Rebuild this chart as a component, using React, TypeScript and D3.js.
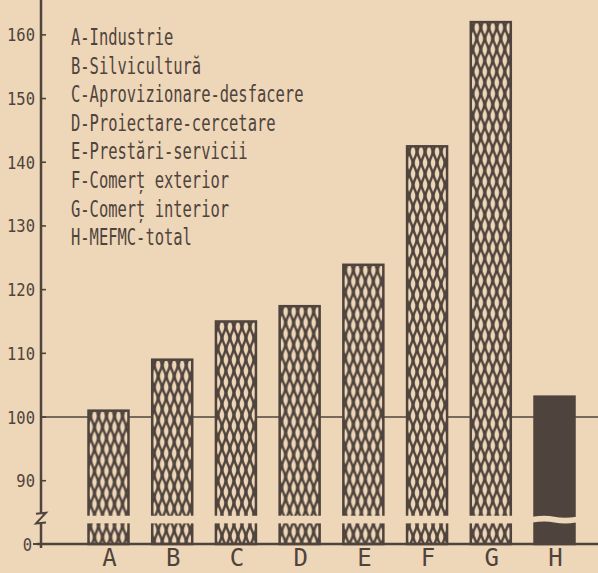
import React from 'react';
import * as d3 from 'd3';

const categories = ['A', 'B', 'C', 'D', 'E', 'F', 'G', 'H'];
const values = [101, 109, 115, 117.4, 123.9, 142.5, 162, 103.2];
const legendLabels = [
  'A-Industrie',
  'B-Silvicultură',
  'C-Aprovizionare-desfacere',
  'D-Proiectare-cercetare',
  'E-Prestări-servicii',
  'F-Comerț exterior',
  'G-Comerț interior',
  'H-MEFMC-total',
];
const yTicks = [0, 90, 100, 110, 120, 130, 140, 150, 160];

const W = 598;
const H = 573;
const BG = '#eed6b8';
const INK = '#4f443d';
const AXIS_X = 41;
const BAR_W = 40;
const BREAK_LO = 83.3;
const BREAK_HI = 84.5;
const MONO = "'DejaVu Sans Mono', 'Liberation Mono', monospace";

const x = d3.scalePoint<string>().domain(categories).range([108.5, 554.5]);
const y = d3.scaleLinear().domain([0, 83, 165]).range([544, 525.3, 3]);

// one tile of the woven lattice fill
const TILE_W = 8;
const TILE_H = 22;
const wave = (x0: number, phase: number) =>
  d3.line<number>()
    .x((t) => x0 + 1.5 * Math.sin((2 * Math.PI * t) / TILE_H + phase))
    .y((t) => t)
    .curve(d3.curveBasis)(d3.range(-2, TILE_H + 3, 1))!;

export default function App() {
  const gapTop = y(BREAK_HI);
  const gapBot = y(BREAK_LO);
  return (
    <svg
      width={W}
      height={H}
      style={{ position: 'absolute', left: 0, top: 0 }}
    >
      <defs>
        {categories.map((c, i) => (
          <pattern
            key={c}
            id={`net-${c}`}
            patternUnits="userSpaceOnUse"
            x={x(c)! - BAR_W / 2}
            y={y(values[i])}
            width={TILE_W}
            height={TILE_H}
          >
            <rect width={TILE_W} height={TILE_H} fill={BG} />
            <path d={wave(0, 0)} stroke={INK} strokeWidth={2.4} fill="none" />
            <path d={wave(TILE_W / 2, Math.PI)} stroke={INK} strokeWidth={2.4} fill="none" />
            <path d={wave(TILE_W, 0)} stroke={INK} strokeWidth={2.4} fill="none" />
          </pattern>
        ))}
      </defs>
      <rect width={W} height={H} fill={BG} />

      {/* legend */}
      {legendLabels.map((t, i) => (
        <g key={t} transform={`translate(71,${45 + i * 28.6}) scale(0.672,1)`}>
          <text x={0} y={0} fontFamily={MONO} fontSize={23} fill={INK}>
            {t}
          </text>
        </g>
      ))}

      {/* reference line at 100 */}
      <line x1={AXIS_X} x2={W} y1={y(100)} y2={y(100)} stroke={INK} strokeWidth={1.6} />

      {/* bars */}
      {categories.map((c, i) => {
        const bx = x(c)! - BAR_W / 2;
        const top = y(values[i]);
        const solid = c === 'H';
        return (
          <g key={c}>
            <rect
              x={bx}
              y={top}
              width={BAR_W}
              height={y(0) - top}
              fill={solid ? INK : `url(#net-${c})`}
              stroke={INK}
              strokeWidth={2.5}
            />
            {solid ? (
              <path
                d={`M${bx - 2},${gapTop + 1} Q${bx + 10},${gapTop - 1} ${bx + 20},${gapTop + 1} T${bx + BAR_W + 2},${gapTop + 1} L${bx + BAR_W + 2},${gapBot - 1} Q${bx + 30},${gapBot + 1} ${bx + 20},${gapBot - 1} T${bx - 2},${gapBot - 1} Z`}
                fill={BG}
              />
            ) : (
              <rect x={bx - 2} y={gapTop} width={BAR_W + 4} height={gapBot - gapTop} fill={BG} />
            )}
          </g>
        );
      })}

      {/* y axis with break */}
      <line x1={AXIS_X} x2={AXIS_X} y1={0} y2={gapTop - 2} stroke={INK} strokeWidth={2.5} />
      <path
        d={`M36,${gapTop - 2} L46,${gapTop - 3} L36,${gapBot} L46,${gapBot - 1}`}
        stroke={INK}
        strokeWidth={2}
        fill="none"
      />
      <line x1={AXIS_X} x2={AXIS_X} y1={gapBot - 1} y2={548} stroke={INK} strokeWidth={2.5} />

      {/* x axis */}
      <line x1={37} x2={W} y1={y(0)} y2={y(0)} stroke={INK} strokeWidth={2.5} />

      {/* ticks */}
      {yTicks.map((t) => (
        <g key={t}>
          {t === 0 ? (
            <line x1={33} x2={AXIS_X} y1={y(t)} y2={y(t)} stroke={INK} strokeWidth={2} />
          ) : (
            <line x1={AXIS_X} x2={46} y1={y(t)} y2={y(t)} stroke={INK} strokeWidth={1.6} />
          )}
          <g transform={`translate(${t === 0 ? 32 : 35},${y(t) + 6.5}) scale(0.86,1)`}>
            <text x={0} y={0} textAnchor="end" fontFamily={MONO} fontSize={18} fill={INK}>
              {t}
            </text>
          </g>
        </g>
      ))}

      {/* category letters */}
      {categories.map((c) => (
        <text
          key={c}
          x={x(c)! + 1}
          y={566}
          textAnchor="middle"
          fontFamily={MONO}
          fontSize={24}
          fill={INK}
        >
          {c}
        </text>
      ))}
    </svg>
  );
}
